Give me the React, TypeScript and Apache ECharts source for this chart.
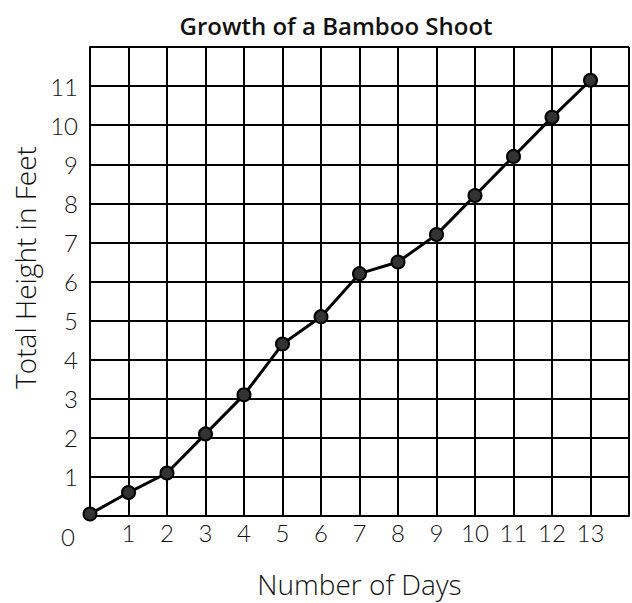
import React, { useEffect, useRef } from "react";
import * as echarts from "echarts";

const days = [0, 1, 2, 3, 4, 5, 6, 7, 8, 9, 10, 11, 12, 13];
const heights = [0.05, 0.6, 1.1, 2.1, 3.1, 4.4, 5.1, 6.2, 6.5, 7.2, 8.2, 9.2, 10.2, 11.15];
const title = "Growth of a Bamboo Shoot";
const xName = "Number of Days";
const yName = "Total Height in Feet";
const originLabel = "0";

export default function App() {
  const ref = useRef<HTMLDivElement>(null);
  useEffect(() => {
    if (!ref.current) return;
    const chart = echarts.init(ref.current, null, { renderer: "svg" });
    const labelFont = "Lato, 'Open Sans', sans-serif";
    const nameFont = "'Open Sans', Lato, sans-serif";
    chart.setOption({
      animation: false,
      backgroundColor: "#fff",
      title: {
        text: title,
        left: 331,
        top: 8,
        textAlign: "center",
        textStyle: { fontFamily: nameFont, fontWeight: 600, fontSize: 24, color: "#111" },
      },
      grid: { left: 90, top: 47, bottom: 83, right: -6 },
      xAxis: {
        type: "value",
        min: 0,
        max: 14,
        interval: 1,
        name: xName,
        nameLocation: "middle",
        nameGap: 54,
        nameTextStyle: { fontFamily: nameFont, fontWeight: 300, fontSize: 28, color: "#111" },
        axisLine: { show: true, lineStyle: { color: "#000", width: 2 } },
        axisTick: { show: false },
        axisLabel: {
          fontFamily: labelFont,
          fontWeight: 300,
          fontSize: 24,
          color: "#111",
          margin: 4,
          formatter: (v: number) => (v === 0 || v === 14 ? "" : String(v)),
        },
        splitLine: { show: true, lineStyle: { color: "#000", width: 2 } },
      },
      yAxis: {
        type: "value",
        min: 0,
        max: 12,
        interval: 1,
        name: yName,
        nameLocation: "middle",
        nameGap: 48,
        nameTextStyle: {
          fontFamily: nameFont,
          fontWeight: 300,
          fontSize: 28,
          color: "#111",
          padding: [0, 0, 0, 28],
        },
        axisLine: { show: true, lineStyle: { color: "#000", width: 2 } },
        axisTick: { show: false },
        axisLabel: {
          fontFamily: labelFont,
          fontWeight: 300,
          fontSize: 24,
          color: "#111",
          margin: 12,
          formatter: (v: number) => (v === 0 || v === 12 ? "" : String(v)),
        },
        splitLine: { show: true, lineStyle: { color: "#000", width: 2 } },
      },
      graphic: [
        {
          type: "text",
          x: 68,
          y: 536,
          style: {
            text: originLabel,
            fontFamily: labelFont,
            fontWeight: 300,
            fontSize: 24,
            fill: "#111",
            align: "center",
            verticalAlign: "middle",
          },
        },
      ],
      series: [
        {
          type: "line",
          data: days.map((d, i) => [d, heights[i]]),
          lineStyle: { color: "#000", width: 3 },
          symbol: "circle",
          symbolSize: 13,
          itemStyle: { color: "#333", borderColor: "#000", borderWidth: 2 },
          z: 5,
        },
      ],
    });
    return () => chart.dispose();
  }, []);
  return (
    <div
      ref={ref}
      style={{ position: "fixed", left: 0, top: 0, width: 632, height: 603, background: "#fff" }}
    />
  );
}
